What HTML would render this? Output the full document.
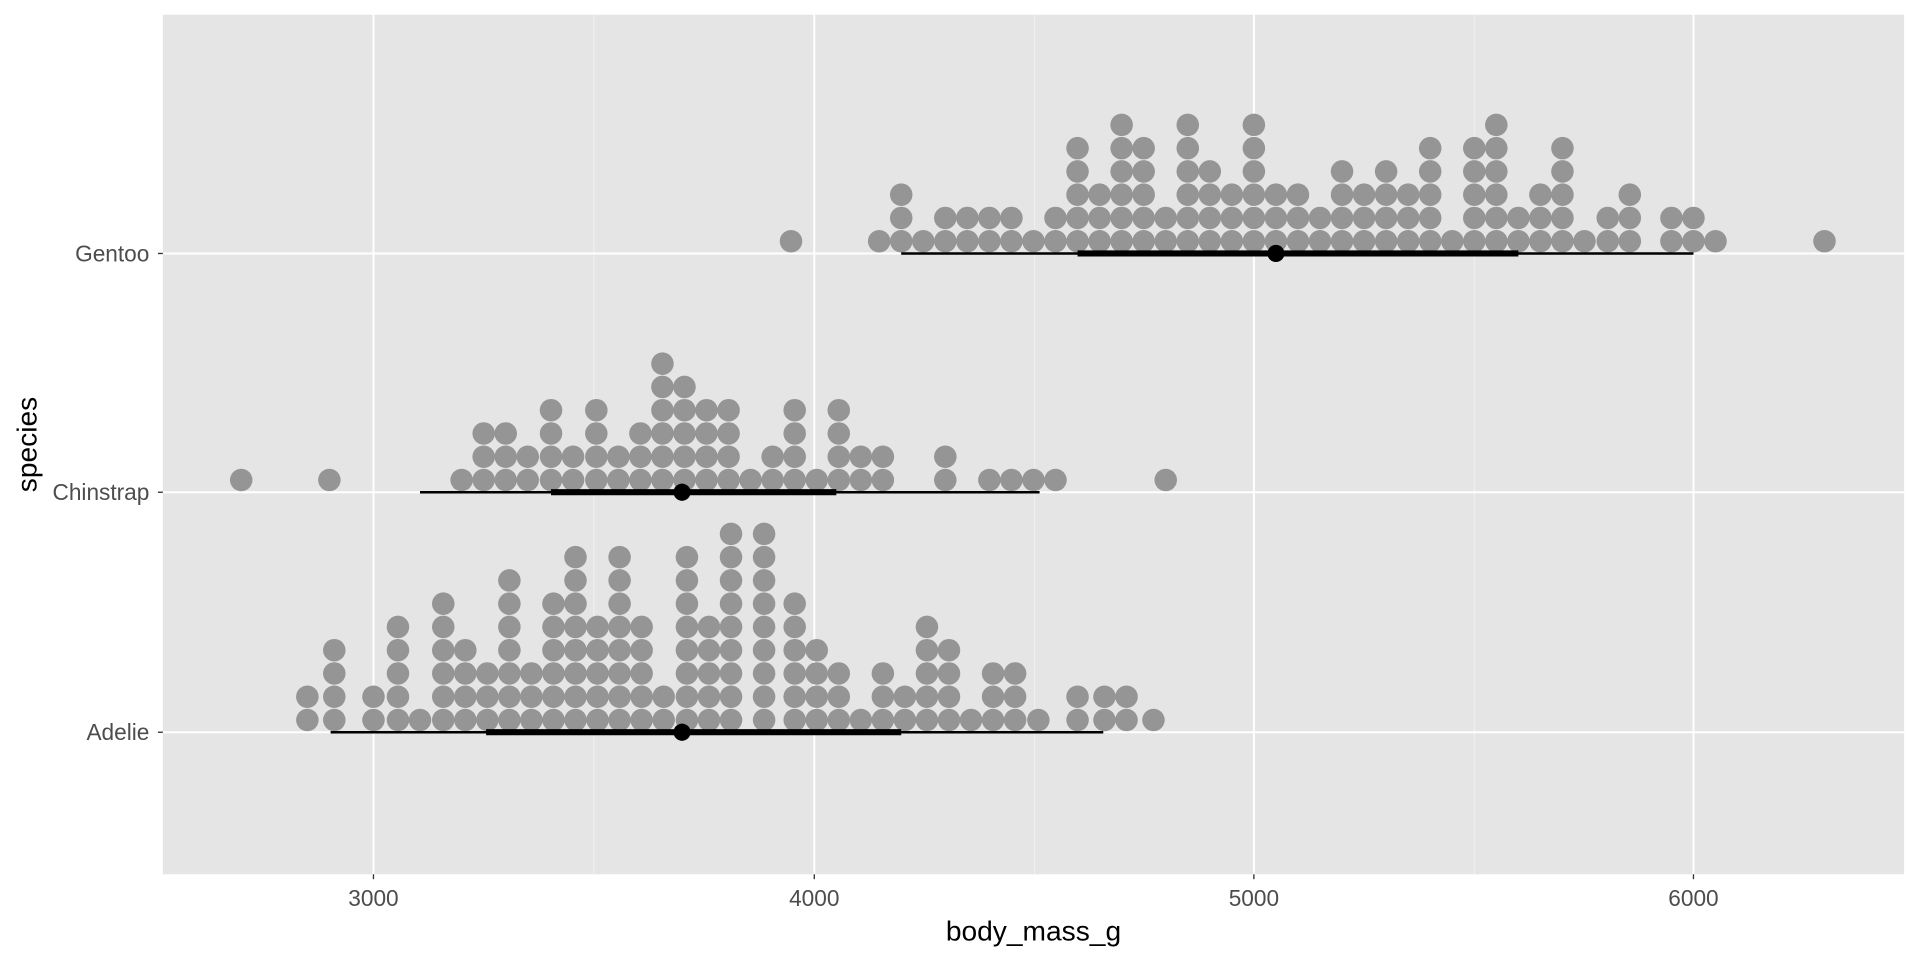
<!DOCTYPE html>
<html><head><meta charset="utf-8"><style>
html,body{margin:0;padding:0;background:#fff;}
svg{display:block;}
text{font-family:"Liberation Sans",Arial,sans-serif;}
</style></head><body>
<svg id="s" width="1920" height="960" viewBox="0 0 1568 784" xmlns="http://www.w3.org/2000/svg">
<rect width="1568" height="784" fill="#fff"/>
<rect x="133" y="12" width="1422" height="702" fill="#e5e5e5"/>
<g stroke="#f2f2f2" stroke-width="0.8">
<line x1="485" y1="12" x2="485" y2="714"/><line x1="845" y1="12" x2="845" y2="714"/><line x1="1204" y1="12" x2="1204" y2="714"/>
</g>
<g stroke="#fff" stroke-width="1.6">
<line x1="305" y1="12" x2="305" y2="714"/><line x1="665" y1="12" x2="665" y2="714"/><line x1="1024" y1="12" x2="1024" y2="714"/><line x1="1383" y1="12" x2="1383" y2="714"/>
<line x1="133" y1="207" x2="1555" y2="207"/><line x1="133" y1="402" x2="1555" y2="402"/><line x1="133" y1="598" x2="1555" y2="598"/>
</g>
<g id="dots" fill="#959595"></g>
<g stroke="#000">
<line x1="736" y1="207" x2="1383" y2="207" stroke-width="2"/>
<line x1="880" y1="207" x2="1240" y2="207" stroke-width="5"/>
<line x1="343" y1="402" x2="849" y2="402" stroke-width="2"/>
<line x1="450" y1="402" x2="683" y2="402" stroke-width="5"/>
<line x1="270" y1="598" x2="901" y2="598" stroke-width="2"/>
<line x1="397" y1="598" x2="736" y2="598" stroke-width="5"/>
</g>
<circle cx="1042" cy="207" r="7" fill="#000"/>
<circle cx="557" cy="402" r="7" fill="#000"/>
<circle cx="557" cy="598" r="7" fill="#000"/>
<g stroke="#333" stroke-width="1.1">
<line x1="129" y1="207" x2="133" y2="207"/><line x1="129" y1="402" x2="133" y2="402"/><line x1="129" y1="598" x2="133" y2="598"/>
<line x1="305" y1="714" x2="305" y2="718"/><line x1="665" y1="714" x2="665" y2="718"/><line x1="1024" y1="714" x2="1024" y2="718"/><line x1="1383" y1="714" x2="1383" y2="718"/>
</g>
<g fill="#4d4d4d" font-size="18.5">
<text x="122" y="213.5" text-anchor="end">Gentoo</text>
<text x="122" y="408.5" text-anchor="end">Chinstrap</text>
<text x="122" y="604.5" text-anchor="end">Adelie</text>
<text x="305" y="740" text-anchor="middle">3000</text>
<text x="665" y="740" text-anchor="middle">4000</text>
<text x="1024" y="740" text-anchor="middle">5000</text>
<text x="1383" y="740" text-anchor="middle">6000</text>
</g>
<text x="844" y="768" text-anchor="middle" font-size="23" fill="#000">body_mass_g</text>
<text transform="translate(30,363) rotate(-90)" text-anchor="middle" font-size="23" fill="#000">species</text>
</svg>
<script>
var g=document.getElementById('dots');
var data={
197:[[646,1],[718,1],[736,3],[754,1],[772,2],[790,2],[808,2],[826,2],[844,1],[862,2],[880,5],[898,3],[916,6],[934,5],[952,2],[970,6],[988,4],[1006,3],[1024,6],[1042,3],[1060,3],[1078,2],[1096,4],[1114,3],[1132,4],[1150,3],[1168,5],[1186,1],[1204,5],[1222,6],[1240,2],[1258,3],[1276,5],[1294,1],[1313,2],[1331,3],[1365,2],[1383,2],[1401,1],[1490,1]],
392:[[197,1],[269,1],[377,1],[395,3],[413,3],[431,2],[450,4],[468,2],[487,4],[505,2],[523,3],[541,6],[559,5],[577,4],[595,4],[613,1],[631,2],[649,4],[667,1],[685,4],[703,2],[721,2],[772,2],[808,1],[826,1],[844,1],[862,1],[952,1]],
588:[[251,2],[273,4],[305,2],[325,5],[343,1],[362,6],[380,4],[398,3],[416,7],[434,3],[452,6],[470,8],[488,5],[506,8],[524,5],[542,2],[561,8],[579,5],[597,9],[624,9],[649,6],[667,4],[685,3],[703,1],[721,3],[739,2],[757,5],[775,4],[793,1],[811,3],[829,3],[848,1],[880,2],[902,2],[920,2],[942,1]]
};
var h='';
for(var b in data){data[b].forEach(function(c){for(var i=0;i<c[1];i++){h+='<circle cx="'+c[0]+'" cy="'+(b-19*i)+'" r="9.2"/>';}});}
g.innerHTML=h;
</script>
</body></html>
